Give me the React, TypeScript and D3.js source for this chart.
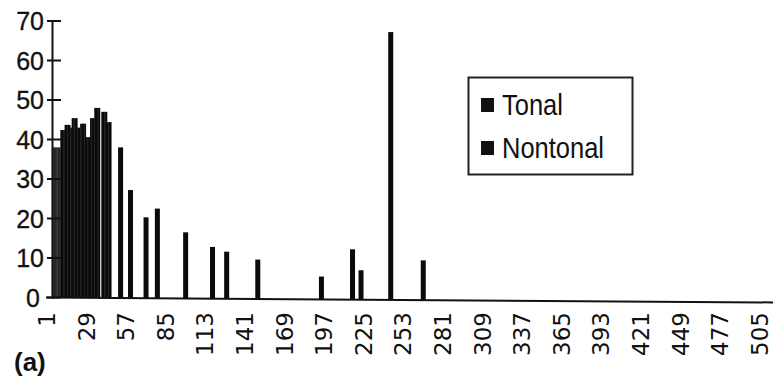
import React, { useEffect, useRef } from "react";
import * as d3 from "d3";

// bins 1..512, labels every 28th bin
const binCount = 512;
const xTickLabels = [1, 29, 57, 85, 113, 141, 169, 197, 225, 253, 281, 309, 337, 365, 393, 421, 449, 477, 505];
const yTicks = [0, 10, 20, 30, 40, 50, 60, 70];

const tonalBins = [1, 2, 3, 4, 5, 6];
const tonalCounts = [38, 38, 38, 38, 38, 38];

const nontonalBins = [
  7, 8, 9, 10, 11, 12, 13, 14, 15, 16, 17, 18, 19, 20, 21, 22, 23, 24, 25, 26, 27, 28, 29, 30, 31, 32, 33, 34,
  36, 37, 38, 39, 40, 41, 42,
  49, 56, 67, 75, 95, 114, 124, 146, 191, 213, 219, 240, 263,
];
const nontonalCounts = [
  42.4, 42.4, 42.4, 43.7, 43.7, 43.7, 43.7, 43, 45.4, 45.4, 45.4, 45.4, 43, 43, 44, 44, 44, 44, 40.6, 40.6, 40.6, 45.4, 45.4, 45.4, 48, 48, 48, 48,
  47, 47, 47, 47, 44.4, 44.4, 44.4,
  38, 27.2, 20.3, 22.5, 16.5, 12.8, 11.6, 9.6, 5.3, 12.2, 6.9, 67.2, 9.4,
];

const seriesNames = ["Tonal", "Nontonal"];

export default function App() {
  const ref = useRef<SVGSVGElement>(null);

  useEffect(() => {
    if (!ref.current) return;
    const svg = d3.select(ref.current);
    svg.selectAll("*").remove();

    const width = 773;
    const height = 376;
    const left = 52;

    const categories = d3.range(1, binCount + 1);
    const x = d3
      .scaleBand<number>()
      .domain(categories)
      .range([left, left + binCount * 1.4143])
      .paddingInner(0)
      .paddingOuter(0);
    const y = d3.scaleLinear().domain([0, 70]).range([297.5, 21]);

    // the scanned axis runs slightly downhill
    const tilt = 0.0068;
    const baseline = (px: number) => y(0) + (px - 46) * tilt;

    svg.append("rect").attr("width", width).attr("height", height).attr("fill", "#fff");

    const bars = [
      ...tonalBins.map((b, i) => ({ bin: b, v: tonalCounts[i], s: 0 })),
      ...nontonalBins.map((b, i) => ({ bin: b, v: nontonalCounts[i], s: 1 })),
    ];
    const used = new Set(bars.map((d) => d.bin));
    const bw = x.bandwidth();

    svg
      .append("g")
      .selectAll("rect")
      .data(bars)
      .join("rect")
      .each(function (d) {
        const isolated = !used.has(d.bin - 1) && !used.has(d.bin + 1);
        const w = isolated ? 5 : bw + 0.3;
        const cx = (x(d.bin) ?? 0) + bw / 2;
        const top = y(d.v);
        d3.select(this)
          .attr("x", cx - w / 2)
          .attr("y", top)
          .attr("width", w)
          .attr("height", baseline(cx) - top)
          .attr("fill", d.s === 0 ? "#262626" : "#0a0a0a");
      });

    // y axis
    svg
      .append("line")
      .attr("x1", left + 0.5)
      .attr("x2", left + 0.5)
      .attr("y1", y(70))
      .attr("y2", y(0) + 1)
      .attr("stroke", "#111")
      .attr("stroke-width", 2);

    svg
      .append("g")
      .selectAll("line")
      .data(yTicks)
      .join("line")
      .attr("x1", 47)
      .attr("x2", 61)
      .attr("y1", (d) => y(d))
      .attr("y2", (d) => y(d))
      .attr("stroke", "#111")
      .attr("stroke-width", 2);

    svg
      .append("g")
      .selectAll("text")
      .data(yTicks)
      .join("text")
      .attr("x", (d) => (d === 0 ? 40 : 44))
      .attr("y", (d) => y(d))
      .attr("dy", "0.36em")
      .attr("text-anchor", "end")
      .attr("font-family", "'Liberation Sans', Arial, sans-serif")
      .attr("font-size", 25)
      .attr("fill", "#111")
      .attr("stroke", "#111")
      .attr("stroke-width", 0.3)
      .text((d) => d);

    // x axis
    svg
      .append("line")
      .attr("x1", 46)
      .attr("x2", width)
      .attr("y1", baseline(46))
      .attr("y2", baseline(width))
      .attr("stroke", "#111")
      .attr("stroke-width", 2);

    svg
      .append("g")
      .selectAll("text")
      .data(xTickLabels)
      .join("text")
      .attr("transform", (d) => `translate(${(x(d) ?? 0) + bw / 2 - 6},312) rotate(-90)`)
      .attr("dy", "0.36em")
      .attr("text-anchor", "end")
      .attr("font-family", "'DejaVu Sans', sans-serif")
      .attr("font-size", 23)
      .attr("fill", "#111")
      .text((d) => d);

    // legend
    const legend = svg.append("g");
    legend
      .append("rect")
      .attr("x", 468.5)
      .attr("y", 77.5)
      .attr("width", 164)
      .attr("height", 97)
      .attr("fill", "#fff")
      .attr("stroke", "#222")
      .attr("stroke-width", 2);

    const items = legend
      .selectAll("g")
      .data(seriesNames)
      .join("g")
      .attr("transform", (d, i) => `translate(481,${98 + i * 43})`);
    items
      .append("rect")
      .attr("width", 13)
      .attr("height", 14)
      .attr("fill", "#111");
    // narrow face: squeeze the regular sans horizontally
    items
      .append("text")
      .attr("transform", "translate(21,17) scale(0.85,1)")
      .attr("font-family", "'Liberation Sans', Arial, sans-serif")
      .attr("font-size", 30)
      .attr("fill", "#111")
      .text((d) => d);

    svg
      .append("text")
      .attr("x", 14)
      .attr("y", 371)
      .attr("font-family", "'Liberation Sans', Arial, sans-serif")
      .attr("font-weight", "bold")
      .attr("font-size", 26)
      .attr("fill", "#111")
      .text("(a)");
  }, []);

  return (
    <svg
      ref={ref}
      width={773}
      height={376}
      style={{ position: "absolute", left: 0, top: 0, display: "block" }}
    />
  );
}
